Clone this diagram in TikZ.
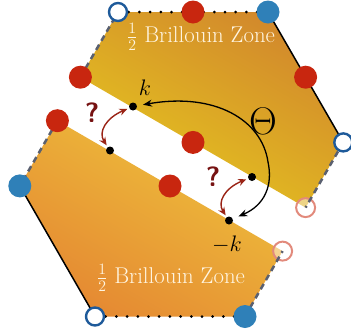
\documentclass[tikz,border=0pt]{standalone}
\usetikzlibrary{arrows.meta}
\definecolor{redpt}{HTML}{C8260F}
\definecolor{bluept}{HTML}{2F80B8}
\definecolor{openblue}{HTML}{1E5A9A}
\definecolor{faintred}{HTML}{E28A7C}
\definecolor{darkred}{HTML}{9A2416}
\definecolor{qred}{HTML}{761212}
\definecolor{dashgray}{HTML}{5A6070}
\definecolor{upA}{HTML}{D2882C}
\definecolor{upB}{HTML}{E6C81E}
\definecolor{loA}{HTML}{EEC23C}
\definecolor{loB}{HTML}{E58932}
\definecolor{zonetext}{HTML}{FFF5E1}
\tikzset{
  reddot/.style={circle,fill=redpt,minimum size=23pt,inner sep=0pt},
  bluedot/.style={circle,fill=bluept,minimum size=23pt,inner sep=0pt},
  opendot/.style={circle,fill=white,draw=openblue,line width=2.4pt,minimum size=18pt,inner sep=0pt},
  faintdot/.style={circle,fill=white,fill opacity=0.45,draw=faintred,draw opacity=1,line width=2pt,minimum size=19pt,inner sep=0pt},
  kdot/.style={circle,fill=black,minimum size=8pt,inner sep=0pt},
  dottededge/.style={black,line width=3pt,line cap=round,dash pattern=on 0pt off 10.7pt},
  dashededge/.style={dashgray,line width=2.5pt,dash pattern=on 6pt off 4.5pt},
  solidedge/.style={black,line width=1.5pt},
  zonelabel/.style={text=zonetext,font=\huge,scale=1.1,inner sep=0pt},
  redarr/.style={darkred,line width=1.4pt,{Stealth[length=8pt,width=7pt]}-{Stealth[length=8pt,width=7pt]},shorten <=2pt,shorten >=2pt},
  blackarr/.style={black,line width=1.3pt,{Stealth[length=9pt,width=7pt]}-{Stealth[length=9pt,width=7pt]},shorten <=6pt,shorten >=6pt},
  qmark/.style={text=qred,font=\sffamily\bfseries\Huge,scale=1.12,inner sep=0pt},
  klabel/.style={font=\LARGE,scale=1.3,inner sep=0pt}
}
\begin{document}
\begin{tikzpicture}[x=1pt,y=-1pt]
\useasboundingbox (0,0) rectangle (351,330);
% upper half
\coordinate (A1) at (80.4,77.2);
\coordinate (A2) at (118,12);
\coordinate (A3) at (268,12);
\coordinate (A4) at (343.3,142.4);
\coordinate (A5) at (305.6,207.6);
% lower half
\coordinate (B1) at (57.4,120.7);
\coordinate (B2) at (19.8,185.9);
\coordinate (B3) at (95,316.5);
\coordinate (B4) at (245,316.5);
\coordinate (B5) at (282.6,251.1);
\shade[top color=upA,bottom color=upB,shading angle=-30] (A1) -- (A2) -- (A3) -- (A4) -- (A5) -- cycle;
\shade[top color=loA,bottom color=loB,shading angle=-30] (B1) -- (B2) -- (B3) -- (B4) -- (B5) -- cycle;
\node[zonelabel] (zu) at (201,37) {$\frac{1}{2}$ Brillouin Zone};
\node[zonelabel] (zl) at (171,278) {$\frac{1}{2}$ Brillouin Zone};
% faint circles
\node[faintdot] (fa) at (A5) {};
\node[faintdot] (fb) at (B5) {};
% edges
\draw[dashededge] (A1) -- (A2);
\draw[dottededge] (A2) -- (A3);
\draw[solidedge] (A3) -- (A4);
\draw[dashededge] (A4) -- (A5);
\draw[dashededge] (B1) -- (B2);
\draw[solidedge] (B2) -- (B3);
\draw[dottededge] (B3) -- (B4);
\draw[dashededge] (B4) -- (B5);
% points
\node[opendot] (oa) at (A2) {};
\node[reddot] (ra) at (193,12) {};
\node[bluedot] (ba) at (A3) {};
\node[reddot] (rb) at (305.6,77.2) {};
\node[opendot] (ob) at (A4) {};
\node[reddot] (rc) at (A1) {};
\node[reddot] (rd) at (193,142.4) {};
\node[reddot] (re) at (B1) {};
\node[bluedot] (bb) at (B2) {};
\node[reddot] (rf) at (170,186) {};
\node[opendot] (oc) at (B3) {};
\node[bluedot] (bc) at (B4) {};
% k points
\node[kdot] (k) at (133,106.5) {};
\node[kdot] (kl) at (110,150.5) {};
\node[kdot] (mku) at (252,177) {};
\node[kdot] (mk) at (229,220.5) {};
\node[klabel] (kt) at (145,88) {$k$};
\node[klabel] (mkt) at (227,245) {$-k$};
% arrows
\coordinate (ctl) at (268,162);
\draw[blackarr] (k) .. controls (215,92) and (262,120) .. (ctl) .. controls (273,185) and (265,205) .. (mk);
\draw[redarr] (kl) .. controls (98,132) and (106,118) .. (k);
\draw[redarr] (mk) .. controls (217,202) and (225,188) .. (mku);
\node[font=\Huge,scale=1.55,inner sep=0pt] (th) at (263,121.5) {$\Theta$};
\node[qmark] (q1) at (92,113) {?};
\node[qmark] (q2) at (213,177) {?};
\end{tikzpicture}
\end{document}
